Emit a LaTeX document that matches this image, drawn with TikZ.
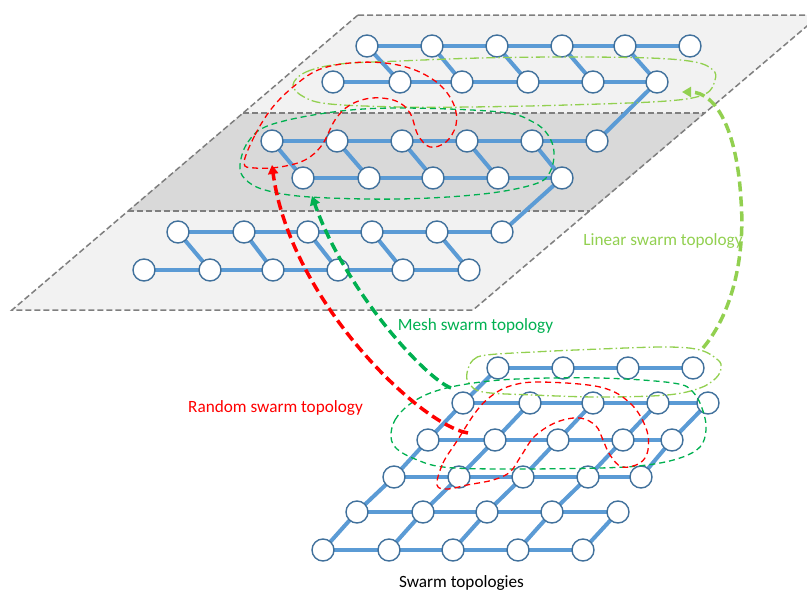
\documentclass[tikz,border=0pt]{standalone}
\usepackage{fontspec}
\setmainfont{Carlito}
\usetikzlibrary{arrows.meta}

\definecolor{edgeblue}{HTML}{5B9BD5}
\definecolor{nodeblue}{HTML}{41719C}
\definecolor{planegray}{HTML}{F2F2F2}
\definecolor{bandgray}{HTML}{D9D9D9}
\definecolor{bordergray}{HTML}{7F7F7F}
\definecolor{meshgreen}{HTML}{00B050}
\definecolor{lineargreen}{HTML}{92D050}
\definecolor{randomred}{HTML}{FF0000}

\pgfdeclarelayer{planes}
\pgfdeclarelayer{links}
\pgfdeclarelayer{notes}
\pgfsetlayers{planes,links,main,notes}

\tikzset{
  agent/.style={circle, draw=nodeblue, line width=1.4pt, fill=white,
                minimum size=22pt, inner sep=0pt},
  link/.style={draw=edgeblue, line width=4pt},
  planeborder/.style={draw=bordergray, line width=1.5pt,
                      dash pattern=on 6pt off 3pt},
  groupline/.style={line width=1.3pt, dash pattern=on 6pt off 4pt},
  chainline/.style={line width=1.3pt,
                    dash pattern=on 9pt off 3pt on 1.5pt off 3pt},
  moveto/.style={line width=3.5pt, dash pattern=on 10pt off 5pt,
                 -{Triangle[length=9pt,width=10pt]}},
  caption/.style={font=\fontsize{17.2}{20}\selectfont, anchor=base,
                  inner sep=0pt}
}

\begin{document}
\begin{tikzpicture}[x=1pt,y=-1pt]
\useasboundingbox (0,0) rectangle (807,592);

% ---------- the stacked plane with its shaded middle band ----------
\begin{pgfonlayer}{planes}
  \fill[planegray] (358,15) -- (820,15) -- (473,310) -- (12,310) -- cycle;
  \fill[bandgray] (243,113) -- (705,113) -- (590,211) -- (128,211) -- cycle;
  \draw[planeborder] (358,15) -- (820,15) -- (473,310) -- (12,310) -- cycle;
  \draw[planeborder] (243,113) -- (705,113);
  \draw[planeborder] (128,211) -- (590,211);
\end{pgfonlayer}

% ---------- upper plane: one zig-zag chain over three levels ----------
\foreach \x [count=\i] in {367,432,497,562,625,690}
  \node[agent] (ta\i) at (\x,46) {};
\foreach \x [count=\i] in {333,400,462,528,593,657}
  \node[agent] (tb\i) at (\x,82) {};
\foreach \x [count=\i] in {272,337,402,467,532,597}
  \node[agent] (ma\i) at (\x,141) {};
\foreach \x [count=\i] in {303,369,433,498,562}
  \node[agent] (mb\i) at (\x,178) {};
\foreach \x [count=\i] in {178,244,308,372,437,502}
  \node[agent] (la\i) at (\x,232) {};
\foreach \x [count=\i] in {144,210,273,338,403,469}
  \node[agent] (lb\i) at (\x,270) {};

% ---------- lower grid ----------
\foreach \x [count=\i] in {498,563,628,693}
  \node[agent] (ga\i) at (\x,368) {};
\foreach \x [count=\i] in {463,530,593,658,708}
  \node[agent] (gb\i) at (\x,403) {};
\foreach \x [count=\i] in {428,495,558,623,672}
  \node[agent] (gc\i) at (\x,440) {};
\foreach \x [count=\i] in {394,459,523,588,641}
  \node[agent] (gd\i) at (\x,477) {};
\foreach \x [count=\i] in {357,423,487,552,618}
  \node[agent] (ge\i) at (\x,512) {};
\foreach \x [count=\i] in {323,389,453,518,583}
  \node[agent] (gf\i) at (\x,550) {};

\begin{pgfonlayer}{links}
  % rows of the upper plane
  \foreach \r in {ta,tb,ma,la,lb}
    \foreach \i/\j in {1/2,2/3,3/4,4/5,5/6}
      \draw[link] (\r\i.center) -- (\r\j.center);
  \foreach \i/\j in {1/2,2/3,3/4,4/5}
    \draw[link] (mb\i.center) -- (mb\j.center);
  % slanted links of the upper plane
  \foreach \i/\j in {1/2,2/3,3/4,4/5,5/6} {
    \draw[link] (ta\i.center) -- (tb\j.center);
    \draw[link] (la\i.center) -- (lb\j.center);
  }
  \foreach \i in {1,...,5}
    \draw[link] (ma\i.center) -- (mb\i.center);
  \draw[link] (tb6.center) -- (ma6.center);
  \draw[link] (mb5.center) -- (la6.center);

  % rows of the grid
  \foreach \i/\j in {1/2,2/3,3/4}
    \draw[link] (ga\i.center) -- (ga\j.center);
  \foreach \r in {gb,gc,gd,ge,gf}
    \foreach \i/\j in {1/2,2/3,3/4,4/5}
      \draw[link] (\r\i.center) -- (\r\j.center);
  % columns of the grid
  \draw[link] (ga1.center) -- (gb1.center);
  \foreach \i in {1,...,5} {
    \draw[link] (gb\i.center) -- (gc\i.center);
    \draw[link] (gc\i.center) -- (gd\i.center);
    \draw[link] (ge\i.center) -- (gf\i.center);
  }
  \foreach \i in {1,...,4}
    \draw[link] (gd\i.center) -- (ge\i.center);
\end{pgfonlayer}

% ---------- groupings and moves ----------
\begin{pgfonlayer}{notes}
  % linear group, upper plane
  \draw[chainline, lineargreen] plot[smooth cycle, tension=0.6] coordinates {
    (293,85) (306,72) (340,64) (400,61) (480,58) (567,57) (650,58)
    (695,62) (713,70) (715,80) (705,94) (667,101) (567,105) (470,107)
    (400,107) (330,104) (304,97)};
  % mesh group, upper plane
  \draw[groupline, meshgreen] plot[smooth cycle, tension=0.6] coordinates {
    (240,165) (248,142) (270,125) (333,112) (400,108) (500,112) (533,122)
    (548,135) (554,152) (550,172) (535,184) (483,194) (400,199) (310,197)
    (265,190) (245,179)};
  % random group, upper plane
  \draw[groupline, randomred] plot[smooth cycle, tension=0.6] coordinates {
    (244,163) (255,135) (272,108) (293,87) (318,70) (350,63) (385,63)
    (415,70) (440,85) (454,105) (456,125) (446,142) (430,147) (418,135)
    (410,113) (396,101) (372,98) (350,105) (335,120) (322,145) (305,160)
    (280,167) (255,168)};

  % linear group, grid
  \draw[chainline, lineargreen] plot[smooth cycle, tension=0.6] coordinates {
    (467,373) (473,360) (487,355) (533,352) (600,349) (667,347) (700,350)
    (718,360) (721,368) (716,378) (700,388) (667,395) (600,397) (533,395)
    (483,392) (469,383)};
  % mesh group, grid
  \draw[groupline, meshgreen] plot[smooth cycle, tension=0.6] coordinates {
    (391,437) (395,420) (410,404) (433,392) (467,384) (517,379) (600,378)
    (673,383) (693,392) (703,411) (706,430) (700,447) (680,458) (647,465)
    (600,468) (500,469) (443,467) (415,459) (397,449)};
  % random group, grid
  \draw[groupline, randomred] plot[smooth cycle, tension=0.6] coordinates {
    (437,485) (443,463) (457,441) (475,413) (490,397) (510,386) (540,382)
    (600,387) (630,403) (646,428) (648,450) (640,463) (622,467) (610,455)
    (603,440) (596,426) (580,418) (557,422) (535,436) (521,456) (510,472)
    (493,480) (467,485) (448,489)};

  % moves from the grid groups up to the plane groups
  \coordinate (randomTail) at (468,433);
  \coordinate (randomHead) at (272,165);
  \coordinate (meshTail) at (451,388);
  \coordinate (meshHead) at (312,196);
  \coordinate (linearTail) at (703,348);
  \coordinate (linearBend) at (741,200);
  \coordinate (linearHead) at (682,92);
  \draw[moveto, randomred] (randomTail)
    .. controls (420,425) and (290,300) .. (randomHead);
  \draw[moveto, meshgreen] (meshTail)
    .. controls (425,378) and (345,290) .. (meshHead);
  \draw[moveto, lineargreen] (linearTail)
    .. controls (735,310) and (745,250) .. (linearBend)
    .. controls (737,130) and (716,92) .. (linearHead);
\end{pgfonlayer}

% ---------- labels ----------
\node[caption, text=lineargreen] (linearLabel) at (663,245) {Linear swarm topology};
\node[caption, text=meshgreen] (meshLabel) at (475.5,330) {Mesh swarm topology};
\node[caption, text=randomred] (randomLabel) at (275.5,412) {Random swarm topology};
\node[caption, text=black] (gridLabel) at (461.5,587) {Swarm topologies};

\end{tikzpicture}
\end{document}
